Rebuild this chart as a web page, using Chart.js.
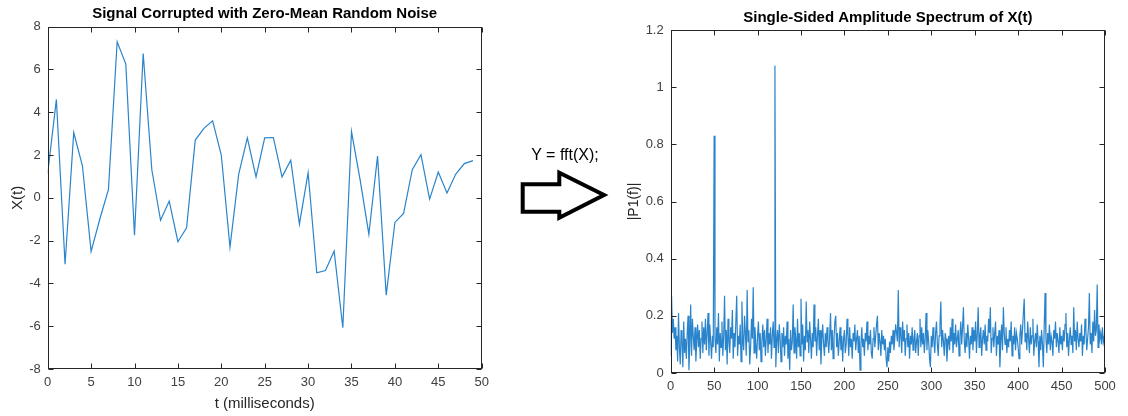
<!DOCTYPE html>
<html><head><meta charset="utf-8">
<script src="https://cdn.jsdelivr.net/npm/chart.js@4.4.0/dist/chart.umd.min.js"></script>
<style>
html,body{margin:0;padding:0;background:#fff;width:1128px;height:416px;overflow:hidden;}
#c1{position:absolute;left:0;top:0;width:500px;height:416px;}
#c2{position:absolute;left:600px;top:0;width:528px;height:416px;}
#arrow{position:absolute;left:0;top:0;}
#lbl{position:absolute;left:505px;width:120px;top:146px;line-height:18px;text-align:center;font:16px "Liberation Sans",Arial,sans-serif;color:#000;white-space:nowrap;}
</style></head><body>
<canvas id="c1" width="500" height="416"></canvas>
<canvas id="c2" width="528" height="416"></canvas>
<svg id="arrow" width="1128" height="416"><polygon points="522.7,184.3 559.3,184.3 559.3,172.7 604,195 559.3,217.7 559.3,211.7 522.7,211.7" fill="#fff" stroke="#000" stroke-width="4" stroke-linejoin="miter"/></svg>
<div id="lbl">Y = fft(X);</div>
<script>
// ---- Left panel: time signal (t in ms, 0..49) ----
const timeMs = [0,1,2,3,4,5,6,7,8,9,10,11,12,13,14,15,16,17,18,19,20,21,22,23,24,25,26,27,28,29,30,31,32,33,34,35,36,37,38,39,40,41,42,43,44,45,46,47,48,49];
const signalX = [1.14,4.6,-3.1,3.05,1.5,-2.5,-1.0,0.4,7.3,6.25,-1.75,6.75,1.3,-1.05,-0.15,-2.05,-1.4,2.7,3.25,3.6,
  2.0,-2.3,1.1,2.8,0.98,2.8,2.82,0.98,1.76,-1.23,1.17,-3.5,-3.4,-2.48,-6.07,3.1,0.83,-1.7,1.95,-4.55,
  -1.15,-0.73,1.32,2.02,-0.06,1.21,0.23,1.1,1.6,1.74];
const leftXTicks = {min:0, max:50, step:5};
const leftYTicks = {min:-8, max:8, step:2};

// ---- Right panel: single-sided amplitude spectrum, f = 0..500 Hz ----
const amplitudeP1 = [
0.06,0.27,0.14,0.19,0.12,0.16,0.08,0.13,0.04,0.21,
0.09,0.03,0.15,0.11,0.02,0.18,0.07,0.12,0.05,0.14,
0.20,0.01,0.10,0.24,0.06,0.19,0.13,0.08,0.16,0.04,
0.11,0.17,0.09,0.15,0.05,0.12,0.18,0.07,0.16,0.10,
0.19,0.08,0.14,0.21,0.06,0.17,0.11,0.05,0.13,0.09,
0.83,0.12,0.07,0.16,0.10,0.21,0.04,0.14,0.09,0.18,
0.06,0.13,0.27,0.08,0.15,0.03,0.19,0.11,0.07,0.16,
0.12,0.22,0.05,0.14,0.09,0.18,0.27,0.06,0.13,0.10,
0.17,0.04,0.25,0.12,0.08,0.20,0.14,0.06,0.29,0.11,
0.15,0.03,0.09,0.19,0.12,0.30,0.07,0.16,0.10,0.05,
0.13,0.18,0.08,0.14,0.04,0.11,0.17,0.09,0.15,0.06,
0.12,0.19,0.07,0.14,0.10,0.16,0.05,0.13,0.18,0.09,
1.075,0.02,0.11,0.15,0.07,0.17,0.12,0.04,0.14,0.09,
0.16,0.06,0.13,0.10,0.18,0.05,0.12,0.01,0.15,0.08,
0.11,0.24,0.07,0.16,0.12,0.05,0.19,0.09,0.14,0.06,
0.26,0.10,0.17,0.04,0.13,0.08,0.25,0.11,0.15,0.07,
0.18,0.12,0.05,0.14,0.09,0.24,0.11,0.16,0.06,0.13,
0.19,0.08,0.15,0.03,0.12,0.17,0.10,0.06,0.14,0.09,
0.16,0.11,0.07,0.13,0.21,0.08,0.15,0.05,0.12,0.18,
0.20,0.09,0.14,0.06,0.11,0.16,0.08,0.13,0.04,0.12,
0.15,0.07,0.10,0.19,0.13,0.06,0.16,0.09,0.12,0.05,
0.14,0.11,0.17,0.08,0.12,0.15,0.07,0.13,0.01,0.10,
0.16,0.09,0.12,0.06,0.14,0.11,0.18,0.08,0.13,0.10,
0.15,0.07,0.05,0.12,0.16,0.09,0.13,0.17,0.20,0.08,
0.14,0.11,0.06,0.15,0.10,0.13,0.08,0.12,0.05,0.02,
0.09,0.04,0.11,0.07,0.13,0.10,0.15,0.08,0.12,0.17,
0.14,0.11,0.29,0.09,0.16,0.13,0.07,0.18,0.11,0.15,
0.06,0.12,0.17,0.09,0.14,0.05,0.13,0.10,0.16,0.08,
0.12,0.15,0.07,0.11,0.14,0.06,0.13,0.19,0.09,0.16,
0.10,0.14,0.07,0.12,0.21,0.08,0.15,0.11,0.05,0.02,
0.13,0.09,0.16,0.11,0.07,0.14,0.18,0.10,0.06,0.13,
0.17,0.25,0.09,0.15,0.11,0.06,0.14,0.12,0.04,0.10,
0.13,0.08,0.16,0.11,0.19,0.07,0.14,0.10,0.17,0.09,
0.12,0.15,0.06,0.13,0.18,0.10,0.16,0.23,0.11,0.07,
0.14,0.09,0.17,0.12,0.05,0.13,0.10,0.16,0.08,0.15,
0.11,0.18,0.07,0.14,0.23,0.09,0.13,0.16,0.06,0.12,
0.15,0.10,0.17,0.08,0.13,0.11,0.19,0.14,0.23,0.07,
0.12,0.16,0.09,0.14,0.18,0.06,0.13,0.10,0.15,0.02,
0.11,0.17,0.08,0.23,0.14,0.10,0.16,0.07,0.12,0.09,
0.15,0.11,0.18,0.06,0.13,0.10,0.16,0.08,0.14,0.12,
0.09,0.05,0.13,0.17,0.10,0.15,0.21,0.26,0.11,0.14,
0.08,0.18,0.12,0.07,0.16,0.10,0.13,0.19,0.06,0.11,
0.14,0.09,0.17,0.11,0.02,0.13,0.08,0.15,0.10,0.02,
0.16,0.28,0.12,0.07,0.14,0.10,0.17,0.08,0.13,0.11,
0.06,0.15,0.12,0.18,0.09,0.14,0.11,0.07,0.16,0.10,
0.13,0.08,0.15,0.11,0.17,0.21,0.09,0.14,0.06,0.12,
0.16,0.10,0.13,0.07,0.23,0.11,0.15,0.08,0.18,0.12,
0.09,0.14,0.11,0.17,0.06,0.13,0.10,0.19,0.15,0.08,
0.12,0.16,0.28,0.10,0.14,0.07,0.18,0.11,0.22,0.13,
0.15,0.31,0.09,0.17,0.12,0.14,0.10,0.16,0.11,0.13,
0.05];
const freqHz = amplitudeP1.map((_, i) => i); // frequency bin index = Hz (Fs=1000, L=1000)
const rightXTicks = {min:0, max:500, step:50};
const rightYTicks = {min:0, max:1.2, step:0.2};

const FONT = '"Liberation Sans", Arial, Helvetica, sans-serif';
const AX = '#262626';
const LINE = '#2a84cb';

const boxTicks = {
  id: 'boxTicks',
  afterDraw(chart, args, opts) {
    const {ctx, chartArea: a, scales: {x, y}} = chart;
    ctx.save();
    ctx.strokeStyle = AX; ctx.lineWidth = 1;
    const L = Math.round(a.left) + 0.5, R = Math.round(a.right) - 0.5;
    const T = Math.round(a.top) + 0.5, B = Math.round(a.bottom) - 0.5;
    ctx.strokeRect(L, T, R - L, B - T);
    ctx.beginPath();
    const len = 5;
    x.ticks.forEach(t => { const p = Math.round(x.getPixelForValue(t.value)) + 0.5;
      ctx.moveTo(p, B); ctx.lineTo(p, B - len); ctx.moveTo(p, T); ctx.lineTo(p, T + len); });
    y.ticks.forEach(t => { const p = Math.round(y.getPixelForValue(t.value)) + 0.5;
      ctx.moveTo(L, p); ctx.lineTo(L + len, p); ctx.moveTo(R, p); ctx.lineTo(R - len, p); });
    ctx.stroke();
    ctx.fillStyle = '#000';
    ctx.font = 'bold 15px ' + FONT;
    ctx.textAlign = 'center'; ctx.textBaseline = 'middle';
    ctx.fillText(opts.text, (a.left + a.right) / 2, opts.y);
    ctx.restore();
  }
};

const fmt = v => String(Math.round(v * 10) / 10);

function makeChart(id, pts, xt, yt, cfg) {
  return new Chart(document.getElementById(id), {
    type: 'line',
    data: { datasets: [{ data: pts, borderColor: LINE, borderWidth: 1.2, pointRadius: 0, tension: 0, fill: false }] },
    options: {
      responsive: false, animation: false, devicePixelRatio: 1,
      layout: { padding: { left: 0, top: cfg.top, right: cfg.right, bottom: 0 } },
      plugins: { legend: { display: false }, tooltip: { enabled: false }, title: { display: false },
                 boxTicks: { text: cfg.title, y: cfg.titleY } },
      scales: {
        x: { type: 'linear', min: xt.min, max: xt.max,
             grid: { display: false, drawTicks: false }, border: { display: false },
             ticks: { stepSize: xt.step, color: '#404040', font: { family: FONT, size: 13 }, padding: 6, maxRotation: 0, callback: fmt },
             title: { display: !!cfg.xTitle, text: cfg.xTitle || '', color: AX, font: { family: FONT, size: 15 }, padding: { top: 0, bottom: 3 } },
             afterFit: s => { s.height = cfg.xH; } },
        y: { type: 'linear', min: yt.min, max: yt.max,
             grid: { display: false, drawTicks: false }, border: { display: false },
             ticks: { stepSize: yt.step, color: '#404040', font: { family: FONT, size: 13 }, padding: 7, callback: fmt },
             title: { display: true, text: cfg.yTitle, color: AX, font: { family: FONT, size: cfg.yTitleSize }, padding: { top: cfg.yTitlePad, bottom: 0 } },
             afterFit: s => { s.width = cfg.yW; } }
      }
    },
    plugins: [boxTicks]
  });
}

makeChart('c1', timeMs.map((t, i) => ({ x: t, y: signalX[i] })), leftXTicks, leftYTicks, {
  top: 26.7, right: 18.3, xH: 47, yW: 47.7,
  title: 'Signal Corrupted with Zero-Mean Random Noise', titleY: 13.5,
  xTitle: 't (milliseconds)', yTitle: 'X(t)', yTitleSize: 15, yTitlePad: 9
});

makeChart('c2', freqHz.map((f, i) => ({ x: f, y: amplitudeP1[i] })), rightXTicks, rightYTicks, {
  top: 30, right: 23, xH: 43, yW: 70.7,
  title: 'Single-Sided Amplitude Spectrum of X(t)', titleY: 18,
  xTitle: '', yTitle: '|P1(f)|', yTitleSize: 14, yTitlePad: 25.6
});
</script>
</body></html>
